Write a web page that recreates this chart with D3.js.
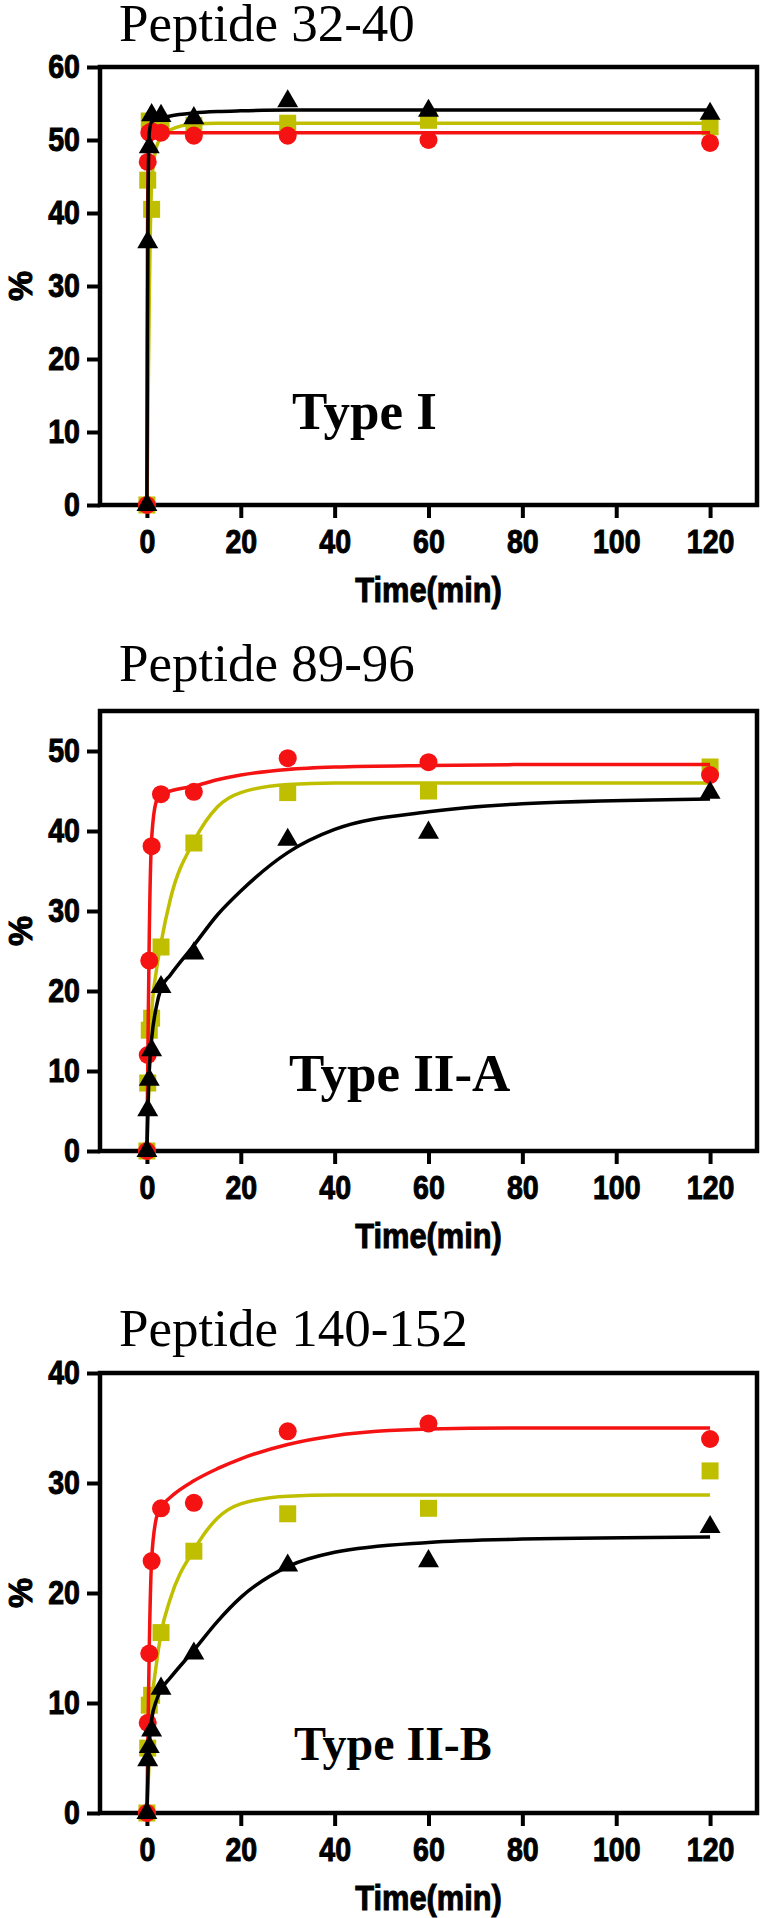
<!DOCTYPE html>
<html>
<head>
<meta charset="utf-8">
<script src="https://cdn.jsdelivr.net/npm/d3@7"></script>
<style>
  body { margin: 0; background: #fff; }
  svg { display: block; }
</style>
</head>
<body>
<svg id="chart"></svg>
<script>
// measured time points (min)
const times = [0, 0.17, 0.5, 1, 3, 10, 30, 60, 120];

// fitted curve sample times (min)
const fitTimes = [0, 0.1, 0.25, 0.5, 1, 2, 3, 5, 10, 15, 20, 30, 40, 60, 80, 120];

const xTicks = [0, 20, 40, 60, 80, 100, 120];

// Peptide 32-40 (Type I)
const p1Red    = [0, 47.0, 51.0, 51.2, 51.0, 50.6, 50.6, 50.0, 49.6];
const p1Yellow = [0, 44.5, 52.6, 40.5, 52.3, 52.0, 52.3, 52.7, 51.8];
const p1Black  = [0, 36.0, 49.0, 53.4, 53.3, 53.0, 55.3, 54.0, 53.6];
const p1RedFit    = [0, 35, 48, 51, 51, 51, 51, 51, 51, 51, 51, 51, 51, 51, 51, 51];
const p1YellowFit = [0, 5, 14, 28, 44, 49, 50.3, 51.4, 52.2, 52.3, 52.3, 52.3, 52.3, 52.3, 52.3, 52.3];
const p1BlackFit  = [0, 20, 42, 51, 52.5, 52.8, 53, 53.3, 53.7, 53.9, 54, 54.1, 54.1, 54.1, 54.1, 54.1];

// Peptide 89-96 (Type II-A)
const p2Red    = [0, 12.0, 23.8, 38.1, 44.6, 44.9, 49.1, 48.6, 47.0];
const p2Yellow = [0, 8.5, 15.1, 16.6, 25.5, 38.5, 44.8, 45.0, 48.0];
const p2Black  = [0, 5.1, 8.9, 12.6, 20.5, 24.7, 38.9, 39.8, 44.8];
const p2RedFit    = [0, 6, 15, 27, 39, 43.7, 44.6, 45, 45.6, 46.4, 47, 47.7, 48, 48.2, 48.3, 48.3];
const p2YellowFit = [0, 2, 5, 10, 17, 22.5, 26, 31.5, 38.7, 43, 44.8, 45.8, 46, 46, 46, 46];
const p2BlackFit  = [0, 2.5, 6, 10, 14, 18, 20.3, 22, 25.7, 29.5, 32.5, 37.3, 40.2, 42.4, 43.4, 44];

// Peptide 140-152 (Type II-B)
const p3Red    = [0, 8.2, 14.5, 22.9, 27.7, 28.2, 34.7, 35.4, 34.0];
const p3Yellow = [0, 5.9, 9.8, 10.7, 16.4, 23.8, 27.2, 27.7, 31.1];
const p3Black  = [0, 4.8, 6.0, 7.5, 11.3, 14.5, 22.5, 22.9, 26.0];
const p3RedFit    = [0, 3.5, 8, 15, 23, 26.8, 27.8, 28.7, 30.2, 31.3, 32.2, 33.5, 34.3, 34.9, 35, 35];
const p3YellowFit = [0, 1, 2.5, 5, 9.5, 13.5, 16.3, 19.5, 23.9, 26.8, 28.1, 28.8, 28.9, 28.9, 28.9, 28.9];
const p3BlackFit  = [0, 1.5, 4, 6.5, 8.5, 10.2, 11.2, 12.3, 14.8, 17.4, 19.6, 22.4, 23.7, 24.6, 24.9, 25.1];

const titles = ["Peptide 32-40", "Peptide 89-96", "Peptide 140-152"];
const typeLabels = ["Type I", "Type II-A", "Type II-B"];
const yMax = [60, 55, 40];

const RED = "#f41212", YELLOW = "#bfbf00", BLACK = "#000";
const SANS = "'Liberation Sans', Arial, Helvetica, sans-serif";
const SERIF = "'Liberation Serif', 'Times New Roman', serif";

const W = 761, H = 1918;
const svg = d3.select("#chart").attr("width", W).attr("height", H);

// layout of each panel: frame top & bottom (y=0 line)
const panels = [
  {top: 67,   bottom: 505,  titleY: 41,   typeX: 292, typeY: 429,  typeSize: 53,
   red: p1Red, yellow: p1Yellow, black: p1Black, redFit: p1RedFit, yellowFit: p1YellowFit, blackFit: p1BlackFit},
  {top: 711,  bottom: 1151, titleY: 681,  typeX: 289, typeY: 1091, typeSize: 53,
   red: p2Red, yellow: p2Yellow, black: p2Black, redFit: p2RedFit, yellowFit: p2YellowFit, blackFit: p2BlackFit},
  {top: 1373, bottom: 1813, titleY: 1346, typeX: 294, typeY: 1760, typeSize: 48,
   red: p3Red, yellow: p3Yellow, black: p3Black, redFit: p3RedFit, yellowFit: p3YellowFit, blackFit: p3BlackFit}
];

const left = 100, right = 757;
const x = d3.scaleLinear().domain([-10, 130]).range([left, right]);

// squeeze text horizontally like the condensed bold face of the original
function condense(sel, k) {
  sel.each(function() {
    const len = this.getComputedTextLength();
    d3.select(this).attr("textLength", len * k).attr("lengthAdjust", "spacingAndGlyphs");
  });
}

panels.forEach((p, i) => {
  const y = d3.scaleLinear().domain([0, yMax[i]]).range([p.bottom, p.top]);
  const g = svg.append("g");

  // title
  g.append("text")
    .attr("x", 119).attr("y", p.titleY)
    .style("font-family", SERIF).style("font-size", "53px")
    .text(titles[i]);

  // axes
  const yAxis = g.append("g")
    .attr("transform", `translate(${left},0)`)
    .call(d3.axisLeft(y).tickValues(d3.range(0, yMax[i] + 1, 10)).tickSize(13).tickPadding(7).tickSizeOuter(0));
  const xAxis = g.append("g")
    .attr("transform", `translate(0,${p.bottom})`)
    .call(d3.axisBottom(x).tickValues(xTicks).tickSize(13).tickPadding(11).tickSizeOuter(0));

  [yAxis, xAxis].forEach(a => {
    a.select(".domain").remove();
    a.selectAll("line").attr("stroke", BLACK).attr("stroke-width", 4);
    a.selectAll("text")
      .attr("fill", BLACK)
      .attr("stroke", BLACK).attr("stroke-width", 1)
      .style("font-family", SANS).style("font-weight", "bold").style("font-size", "34px")
      .call(condense, 0.84);
  });

  // frame
  g.append("rect")
    .attr("x", left).attr("y", p.top)
    .attr("width", right - left).attr("height", p.bottom - p.top)
    .attr("fill", "none").attr("stroke", BLACK).attr("stroke-width", 4.5);

  // axis titles
  g.append("text")
    .attr("x", (left + right) / 2).attr("y", p.bottom + 97)
    .attr("text-anchor", "middle")
    .attr("stroke", BLACK).attr("stroke-width", 1)
    .style("font-family", SANS).style("font-weight", "bold").style("font-size", "35px")
    .text("Time(min)")
    .call(condense, 0.88);

  g.append("text")
    .attr("transform", `translate(32,${(p.top + p.bottom) / 2}) rotate(-90)`)
    .attr("text-anchor", "middle")
    .attr("stroke", BLACK).attr("stroke-width", 1)
    .style("font-family", SANS).style("font-weight", "bold").style("font-size", "34px")
    .text("%");

  // type label
  g.append("text")
    .attr("x", p.typeX).attr("y", p.typeY)
    .style("font-family", SERIF).style("font-weight", "bold").style("font-size", p.typeSize + "px")
    .text(typeLabels[i]);

  const line = d3.line()
    .x(d => x(d[0]))
    .y(d => y(d[1]))
    .curve(d3.curveMonotoneX);

  const series = [
    {pts: p.yellow, fit: p.yellowFit, color: YELLOW, shape: d3.symbolSquare, size: 289},
    {pts: p.red,    fit: p.redFit,    color: RED,    shape: d3.symbolCircle, size: 255},
    {pts: p.black,  fit: p.blackFit,  color: BLACK,  shape: d3.symbolTriangle, size: 190}
  ];

  series.forEach(s => {
    g.append("path")
      .datum(fitTimes.map((t, j) => [t, s.fit[j]]))
      .attr("fill", "none")
      .attr("stroke", s.color)
      .attr("stroke-width", 3.5)
      .attr("d", line);

    g.selectAll(null)
      .data(times.map((t, j) => [t, s.pts[j]]))
      .enter()
      .append("path")
        .attr("transform", d => `translate(${x(d[0])},${y(d[1])})`)
        .attr("d", d3.symbol().type(s.shape).size(s.size))
        .attr("fill", s.color);
  });
});
</script>
</body>
</html>
